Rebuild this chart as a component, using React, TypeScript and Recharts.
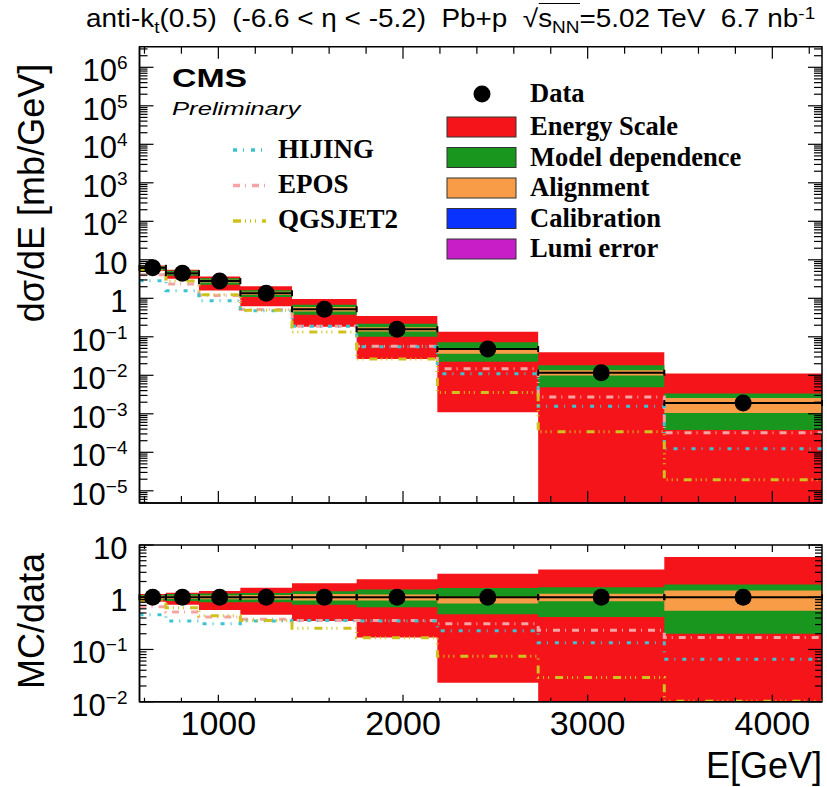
import React from 'react';
import { ComposedChart, Area, Line, Scatter, ErrorBar, XAxis, YAxis, ReferenceArea } from 'recharts';

// jet energy bins [GeV] and measured spectrum [mb/GeV]
const binEdges = [573, 716, 895, 1119, 1399, 1749, 2186, 2732, 3415, 4269];
const dsigmadE = [6.2, 4.5, 2.8, 1.35, 0.52, 0.157, 0.048, 0.0117, 0.0019];

// systematic bands, relative to data (low / high)
const energyScaleLo = [0.82, 0.72, 0.57, 0.46, 0.35, 0.17, 0.023, 0.0001, 0.0001];
const energyScaleHi = [1.15, 1.22, 1.31, 1.52, 1.85, 2.2, 2.83, 3.4, 5.9];
const modelDepLo = [0.88, 0.85, 0.8, 0.8, 0.72, 0.64, 0.47, 0.42, 0.2];
const modelDepHi = [1.1, 1.15, 1.18, 1.2, 1.3, 1.4, 1.5, 1.55, 1.76];
const alignmentLo = [0.93, 0.93, 0.92, 0.9, 0.87, 0.87, 0.76, 0.84, 0.55];
const alignmentHi = [1.07, 1.07, 1.08, 1.1, 1.15, 1.13, 1.03, 1.16, 1.35];

// generator predictions as MC / data
const hijingRatio = [0.46, 0.35, 0.31, 0.35, 0.36, 0.35, 0.227, 0.135, 0.065];
const eposRatio = [0.66, 0.52, 0.42, 0.38, 0.36, 0.36, 0.31, 0.234, 0.17];
const qgsjetRatio = [0.88, 0.63, 0.44, 0.36, 0.255, 0.168, 0.074, 0.029, 0.0102];

const xMajorTicks = [1000, 2000, 3000, 4000];
const xMinorTicks = [600, 800, 1200, 1400, 1600, 1800, 2200, 2400, 2600, 2800, 3200, 3400, 3600, 3800, 4200];
const specDecades = [-5, -4, -3, -2, -1, 0, 1, 2, 3, 4, 5, 6];
const ratioDecades = [-2, -1, 0, 1];

const SPEC_DOMAIN: [number, number] = [4.82e-6, 3.43e6];
const RATIO_DOMAIN: [number, number] = [0.01, 10];
const X_DOMAIN: [number, number] = [binEdges[0], binEdges[binEdges.length - 1]];

const C = {
  red: '#f51419',
  green: '#19961e',
  orange: '#f89c48',
  blue: '#0a32ff',
  magenta: '#c81ec8',
  hijing: '#3cc3d2',
  epos: '#f4a4a4',
  qgsjet: '#cfc21e',
};
const DASH = { hijing: '4 6 1 7', epos: '7 5 1 6', qgsjet: '8 4 1 4 1 4 1 6' };

const SANS = '"Liberation Sans", Arial, Helvetica, sans-serif';
const SERIF = '"Liberation Serif", "Times New Roman", serif';

const W = 827;
const PLOT_L = 139.5;
const PLOT_R = 822;
const PLOT_W = PLOT_R - PLOT_L;
const UP_TOP = 46.7;
const UP_BOT = 503;
const LO_TOP = 545;
const LO_BOT = 701.7;

// one row per bin edge; the last edge repeats the last bin so stepAfter closes it
function histRows(scale: number[]) {
  const nb = scale.length;
  return binEdges.map((e, i) => {
    const k = Math.min(i, nb - 1);
    const d = scale[k];
    return {
      e,
      red: [d * energyScaleLo[k], d * energyScaleHi[k]],
      green: [d * modelDepLo[k], d * modelDepHi[k]],
      orange: [d * alignmentLo[k], d * alignmentHi[k]],
      hijing: d * hijingRatio[k],
      epos: d * eposRatio[k],
      qgsjet: d * qgsjetRatio[k],
    };
  });
}

function binPoints(vals: number[]) {
  return vals.map((v, k) => ({
    e: (binEdges[k] + binEdges[k + 1]) / 2,
    v,
    ex: (binEdges[k + 1] - binEdges[k]) / 2,
  }));
}

const specRows = histRows(dsigmadE);
const ratioRows = histRows(dsigmadE.map(() => 1));
const specPoints = binPoints(dsigmadE);
const ratioPoints = binPoints(dsigmadE.map(() => 1));

function logTicks(decades: number[], [lo, hi]: [number, number]) {
  const out: number[] = [];
  for (let k = decades[0] - 1; k <= decades[decades.length - 1]; k++) {
    for (let m = 1; m < 10; m++) {
      const v = m * Math.pow(10, k);
      if (v >= lo && v <= hi * 1.0001) out.push(v);
    }
  }
  return out;
}

const isDecade = (v: number) => Math.abs(Math.log10(v) - Math.round(Math.log10(v))) < 1e-6;

function decadeLabel(k: number) {
  if (k === 0) return '1';
  if (k === 1) return '10';
  return (
    <>
      10
      <tspan dy={-12} fontSize={19}>
        {k < 0 ? '\u2212' + -k : String(k)}
      </tspan>
    </>
  );
}

function makeYTick(plotW: number, majorLen: number, minorLen: number) {
  return (p: any) => {
    const { x, y, payload } = p;
    const v = payload.value as number;
    const major = isDecade(v);
    const len = major ? majorLen : minorLen;
    return (
      <g>
        <line x1={x} x2={x + len} y1={y} y2={y} stroke="#000" strokeWidth={1.2} />
        <line x1={x + plotW} x2={x + plotW - len} y1={y} y2={y} stroke="#000" strokeWidth={1.2} />
        {major && (
          <text x={x - 12} y={y + 14} textAnchor="end" fontSize={31} fontFamily={SANS} fill="#000">
            {decadeLabel(Math.round(Math.log10(v)))}
          </text>
        )}
      </g>
    );
  };
}

function makeXTick(plotH: number, majorLen: number, minorLen: number, labels: boolean) {
  return (p: any) => {
    const { x, y, payload } = p;
    const v = payload.value as number;
    const major = xMajorTicks.includes(v);
    const len = major ? majorLen : minorLen;
    return (
      <g>
        <line x1={x} x2={x} y1={y} y2={y - len} stroke="#000" strokeWidth={1.2} />
        <line x1={x} x2={x} y1={y - plotH} y2={y - plotH + len} stroke="#000" strokeWidth={1.2} />
        {labels && major && (
          <text x={x} y={y + 33} textAnchor="middle" fontSize={34} fontFamily={SANS} fill="#000">
            {v}
          </text>
        )}
      </g>
    );
  };
}

const dotShape = (p: any) => <circle cx={p.cx} cy={p.cy} r={8.5} fill="#000" />;

function Panel({
  rows,
  points,
  domain,
  decades,
  top,
  height,
  plotTop,
  plotBot,
  xLabels,
  yMajor,
  yMinor,
  xMajor,
  xMinor,
}: any) {
  // axes get 1px so they still render; the plot box itself sits on the margins
  const marginTop = plotTop - top;
  const marginBot = top + height - plotBot - 1;
  const plotH = plotBot - plotTop;
  return (
    <div style={{ position: 'absolute', left: 0, top, width: W, height }}>
      <ComposedChart
        width={W}
        height={height}
        data={rows}
        margin={{ top: marginTop, right: W - PLOT_R, bottom: marginBot, left: PLOT_L - 1 }}
      >
        <XAxis
          dataKey="e"
          type="number"
          domain={X_DOMAIN}
          allowDataOverflow
          ticks={[...xMinorTicks, ...xMajorTicks].sort((a, b) => a - b)}
          interval={0}
          height={1}
          tickSize={0}
          tickMargin={0}
          tickLine={false}
          axisLine={{ stroke: '#000', strokeWidth: 1.5 }}
          tick={makeXTick(plotH, xMajor, xMinor, xLabels)}
        />
        <YAxis
          type="number"
          scale="log"
          domain={domain}
          allowDataOverflow
          ticks={logTicks(decades, domain)}
          interval={0}
          width={1}
          tickSize={0}
          tickMargin={0}
          tickLine={false}
          axisLine={{ stroke: '#000', strokeWidth: 1.5 }}
          tick={makeYTick(PLOT_W, yMajor, yMinor)}
        />
        <Area type="stepAfter" dataKey="red" fill={C.red} fillOpacity={1} stroke="none" isAnimationActive={false} />
        <Area type="stepAfter" dataKey="green" fill={C.green} fillOpacity={1} stroke="none" isAnimationActive={false} />
        <Area type="stepAfter" dataKey="orange" fill={C.orange} fillOpacity={1} stroke="none" isAnimationActive={false} />
        <Line type="stepAfter" dataKey="epos" stroke={C.epos} strokeWidth={3} strokeDasharray={DASH.epos} dot={false} activeDot={false} isAnimationActive={false} />
        <Line type="stepAfter" dataKey="hijing" stroke={C.hijing} strokeWidth={3} strokeDasharray={DASH.hijing} dot={false} activeDot={false} isAnimationActive={false} />
        <Line type="stepAfter" dataKey="qgsjet" stroke={C.qgsjet} strokeWidth={3} strokeDasharray={DASH.qgsjet} dot={false} activeDot={false} isAnimationActive={false} />
        <Scatter data={points} dataKey="v" shape={dotShape} isAnimationActive={false}>
          <ErrorBar dataKey="ex" direction="x" width={3} stroke="#000" strokeWidth={2} isAnimationActive={false} />
        </Scatter>
        <ReferenceArea
          x1={X_DOMAIN[0]}
          x2={X_DOMAIN[1]}
          y1={domain[0]}
          y2={domain[1]}
          ifOverflow="visible"
          fill="none"
          stroke="#000"
          strokeWidth={1.5}
        />
      </ComposedChart>
    </div>
  );
}

const sub = (t: string) => (
  <span style={{ fontSize: '0.68em', position: 'relative', top: '0.38em' }}>{t}</span>
);
const sup = (t: string) => (
  <span style={{ fontSize: '0.68em', position: 'relative', top: '-0.5em' }}>{t}</span>
);

function LineSample({ x, y, color, dash }: { x: number; y: number; color: string; dash: string }) {
  return <line x1={x} x2={x + 33} y1={y} y2={y} stroke={color} strokeWidth={3.5} strokeDasharray={dash} />;
}

const boxLegend = [
  { label: 'Energy Scale', color: C.red },
  { label: 'Model dependence', color: C.green },
  { label: 'Alignment', color: C.orange },
  { label: 'Calibration', color: C.blue },
  { label: 'Lumi error', color: C.magenta },
];

const mcLegend = [
  { label: 'HIJING', color: C.hijing, dash: DASH.hijing },
  { label: 'EPOS', color: C.epos, dash: DASH.epos },
  { label: 'QGSJET2', color: C.qgsjet, dash: DASH.qgsjet },
];

export default function App() {
  const nb = '\u00a0\u00a0';
  return (
    <div style={{ position: 'absolute', left: 0, top: 0, width: W, height: 787, background: '#fff', overflow: 'hidden' }}>
      <Panel
        rows={specRows}
        points={specPoints}
        domain={SPEC_DOMAIN}
        decades={specDecades}
        top={0}
        height={512}
        plotTop={UP_TOP}
        plotBot={UP_BOT}
        xLabels={false}
        yMajor={14}
        yMinor={8}
        xMajor={12}
        xMinor={7}
      />
      <Panel
        rows={ratioRows}
        points={ratioPoints}
        domain={RATIO_DOMAIN}
        decades={ratioDecades}
        top={515}
        height={272}
        plotTop={LO_TOP}
        plotBot={LO_BOT}
        xLabels
        yMajor={14}
        yMinor={7}
        xMajor={7}
        xMinor={4}
      />

      <div
        style={{
          position: 'absolute',
          left: 86,
          top: 3,
          fontFamily: SANS,
          fontSize: 25,
          lineHeight: '30px',
          whiteSpace: 'nowrap',
          color: '#000',
          transform: 'scaleX(1.115)',
          transformOrigin: '0 0',
        }}
      >
        anti-k{sub('t')}(0.5){nb}(-6.6 &lt; η &lt; -5.2){nb}Pb+p{nb}
        <span>√</span>
        <span style={{ borderTop: '1.5px solid #000' }}>s{sub('NN')}</span>=5.02 TeV{nb}6.7 nb{sup('-1')}
      </div>

      <svg width={W} height={787} style={{ position: 'absolute', left: 0, top: 0, pointerEvents: 'none' }}>
        <text transform="translate(44,193) rotate(-90)" textAnchor="middle" fontSize={36} fontFamily={SANS}>
          dσ/dE [mb/GeV]
        </text>
        <text transform="translate(44,621) rotate(-90)" textAnchor="middle" fontSize={36} fontFamily={SANS}>
          MC/data
        </text>
        <text x={822} y={778} textAnchor="end" fontSize={36} fontFamily={SANS}>
          E[GeV]
        </text>

        <text x={172} y={87} fontSize={26} fontWeight="bold" fontFamily={SANS} transform="translate(172,0) scale(1.3,1) translate(-172,0)">
          CMS
        </text>
        <text x={172} y={115} fontSize={19} fontStyle="italic" fontFamily={SANS} transform="translate(172,0) scale(1.35,1) translate(-172,0)">
          Preliminary
        </text>
        {mcLegend.map((m, i) => (
          <g key={m.label}>
            <LineSample x={233} y={150 + i * 35.5} color={m.color} dash={m.dash} />
            <text x={278} y={158 + i * 35} fontSize={27} fontWeight="bold" fontFamily={SERIF}>
              {m.label}
            </text>
          </g>
        ))}

        <circle cx={482} cy={94} r={8.5} fill="#000" />
        <text x={530} y={102} fontSize={26.5} fontWeight="bold" fontFamily={SERIF}>
          Data
        </text>
        {boxLegend.map((b, i) => (
          <g key={b.label}>
            <rect x={447} y={117 + i * 30.5} width={69} height={20} fill={b.color} stroke="#333" strokeWidth={1} />
            <text x={530} y={135 + i * 30.5} fontSize={26.5} fontWeight="bold" fontFamily={SERIF}>
              {b.label}
            </text>
          </g>
        ))}
      </svg>
    </div>
  );
}
